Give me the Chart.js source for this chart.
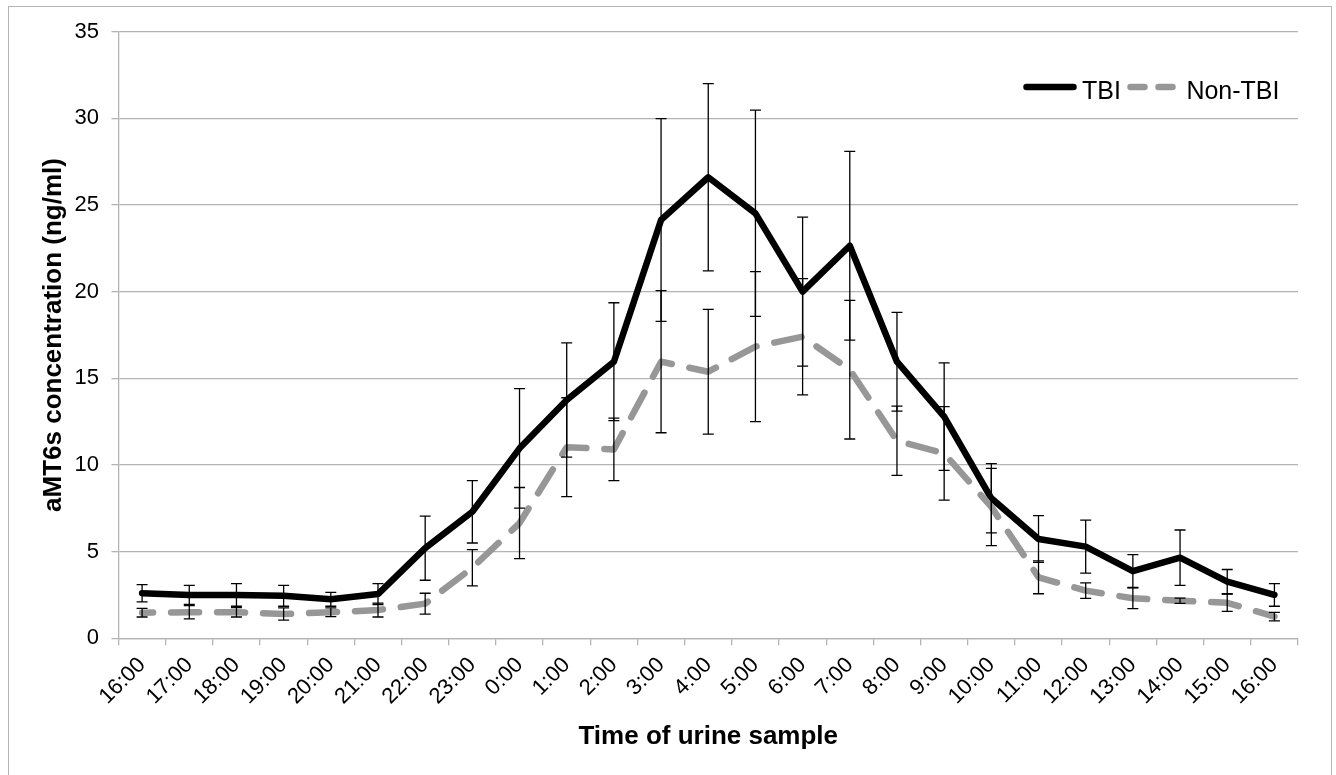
<!DOCTYPE html>
<html>
<head>
<meta charset="utf-8">
<script src="https://cdn.jsdelivr.net/npm/chart.js@4/dist/chart.umd.min.js"></script>
<style>
  html, body { margin:0; padding:0; background:#fff; width:1336px; height:775px; overflow:hidden; }
  #frame { position:absolute; left:8px; top:6px; width:1324px; height:830px; border:1.3px solid #b4b4b4; box-sizing:border-box; }
  #wrap { position:absolute; left:0; top:0; width:1336px; height:775px; }
  #legend { position:absolute; left:1023px; top:73px; display:flex; align-items:flex-start;
            font-family:'Liberation Sans', Arial, sans-serif; font-size:25px; line-height:34px; color:#000; white-space:nowrap; }
  #legend .item { display:flex; align-items:flex-start; }
  #legend .item + .item { margin-left:6.5px; }
  #legend svg { display:block; margin-right:5px; }
</style>
</head>
<body>
<div id="frame"></div>
<div id="wrap"><canvas id="c"></canvas></div>
<div id="legend"></div>
<script>
// ---- data ----
const timeLabels = ['16:00','17:00','18:00','19:00','20:00','21:00','22:00','23:00','0:00','1:00','2:00','3:00',
                    '4:00','5:00','6:00','7:00','8:00','9:00','10:00','11:00','12:00','13:00','14:00','15:00','16:00'];
const tbiMean    = [2.6, 2.5, 2.5, 2.45, 2.25, 2.55, 5.2, 7.3, 10.96, 13.75, 15.96, 24.14,
                    26.6, 24.52, 20.0, 22.65, 15.96, 12.79, 8.08, 5.73, 5.29, 3.88, 4.65, 3.27, 2.5];
const tbiErr     = [0.5, 0.55, 0.65, 0.6, 0.4, 0.6, 1.85, 1.8, 3.45, 3.3, 3.4, 5.85,
                    5.4, 5.95, 4.3, 5.45, 2.85, 3.1, 2.0, 1.35, 1.53, 0.95, 1.6, 0.7, 0.65];
const nonTbiMean = [1.48, 1.5, 1.5, 1.4, 1.5, 1.63, 2.0, 4.07, 6.65, 11.03, 10.9, 15.96,
                    15.38, 16.83, 17.4, 15.5, 11.4, 10.67, 7.58, 3.52, 2.75, 2.31, 2.17, 2.05, 1.25];
const nonTbiErr  = [0.25, 0.38, 0.27, 0.35, 0.25, 0.4, 0.6, 1.05, 2.05, 2.85, 1.8, 4.1,
                    3.6, 4.33, 3.35, 4.0, 2.0, 2.7, 2.23, 0.95, 0.45, 0.6, 0.15, 0.5, 0.25];
const seriesNames = ['TBI', 'Non-TBI'];
const yAxisTitle = 'aMT6s concentration (ng/ml)';
const xAxisTitle = 'Time of urine sample';
const yMin = 0, yMax = 35, yStep = 5;

// ---- chart ----
const FONT = "'Liberation Sans', Arial, sans-serif";
Chart.defaults.font.family = FONT;
Chart.defaults.color = '#000';
const GRID = '#b4b4b4';

const errorBars = {
  id: 'errorBars',
  afterDatasetsDraw(chart) {
    const { ctx } = chart;
    const y = chart.scales.y;
    ctx.save();
    ctx.strokeStyle = '#000';
    ctx.lineWidth = 1.3;
    ctx.lineCap = 'butt';
    chart.data.datasets.forEach((ds, di) => {
      const meta = chart.getDatasetMeta(di);
      ds.errorValues.forEach((e, i) => {
        const v = ds.data[i];
        const px = meta.data[i].x;
        const top = y.getPixelForValue(v + e);
        const bot = y.getPixelForValue(v - e);
        ctx.beginPath();
        ctx.moveTo(px, top); ctx.lineTo(px, bot);
        ctx.moveTo(px - 5.5, top); ctx.lineTo(px + 5.5, top);
        ctx.moveTo(px - 5.5, bot); ctx.lineTo(px + 5.5, bot);
        ctx.stroke();
      });
    });
    ctx.restore();
  }
};

const chart = new Chart(document.getElementById('c'), {
  type: 'line',
  data: {
    labels: timeLabels,
    datasets: [
      { label: seriesNames[0], data: tbiMean, errorValues: tbiErr, order: 1,
        borderColor: '#000000', backgroundColor: '#000000', borderWidth: 6.5,
        borderCapStyle: 'round', borderJoinStyle: 'round', pointRadius: 0, tension: 0, fill: false },
      { label: seriesNames[1], data: nonTbiMean, errorValues: nonTbiErr, order: 0,
        borderColor: '#979797', backgroundColor: '#979797', borderWidth: 6.5,
        borderDash: [28, 18], borderDashOffset: 17,
        borderCapStyle: 'round', borderJoinStyle: 'round', pointRadius: 0, tension: 0, fill: false }
    ]
  },
  options: {
    responsive: true,
    maintainAspectRatio: false,
    animation: false,
    events: [],
    layout: { padding: { left: 0, top: 31.7, right: 38, bottom: 0 } },
    plugins: { legend: { display: false }, tooltip: { enabled: false } },
    scales: {
      x: {
        type: 'category',
        offset: true,
        grid: { offset: true, drawOnChartArea: false, drawTicks: true, tickLength: 7,
                color: GRID, tickColor: GRID, lineWidth: 1.3, tickWidth: 1.3 },
        border: { display: true, color: GRID, width: 1.3 },
        ticks: { autoSkip: false, minRotation: 45, maxRotation: 45, padding: 7,
                 font: { size: 22 }, color: '#000' },
        title: { display: true, text: xAxisTitle, color: '#000',
                 font: { size: 26, weight: 'bold' }, padding: { top: 0, bottom: 22.8 } },
        afterFit(scale) { scale.height = 136.7; }
      },
      y: {
        min: yMin, max: yMax,
        grid: { color: GRID, tickColor: GRID, lineWidth: 1.3, tickLength: 7, drawTicks: true },
        border: { display: true, color: GRID, width: 1.3 },
        ticks: { stepSize: yStep, padding: 12.5, font: { size: 22 }, color: '#000' },
        title: { display: true, text: yAxisTitle, color: '#000',
                 font: { size: 26, weight: 'bold' }, padding: { top: 38.4, bottom: 0 } },
        afterFit(scale) { scale.width = 118.5; }
      }
    }
  },
  plugins: [errorBars]
});

// ---- legend (HTML, built from the chart's datasets) ----
const legendEl = document.getElementById('legend');
const NS = 'http://www.w3.org/2000/svg';
chart.data.datasets.forEach((ds) => {
  const item = document.createElement('div');
  item.className = 'item';
  const svg = document.createElementNS(NS, 'svg');
  svg.setAttribute('width', '54'); svg.setAttribute('height', '34');
  const ln = document.createElementNS(NS, 'line');
  ln.setAttribute('x1', '3.5'); ln.setAttribute('x2', '50.5');
  ln.setAttribute('y1', '14'); ln.setAttribute('y2', '14');
  ln.setAttribute('stroke', ds.borderColor);
  ln.setAttribute('stroke-width', ds.borderWidth);
  ln.setAttribute('stroke-linecap', 'round');
  if (ds.borderDash) ln.setAttribute('stroke-dasharray', '14 14');
  svg.appendChild(ln);
  const txt = document.createElement('span');
  txt.textContent = ds.label;
  item.appendChild(svg); item.appendChild(txt);
  legendEl.appendChild(item);
});
</script>
</body>
</html>
